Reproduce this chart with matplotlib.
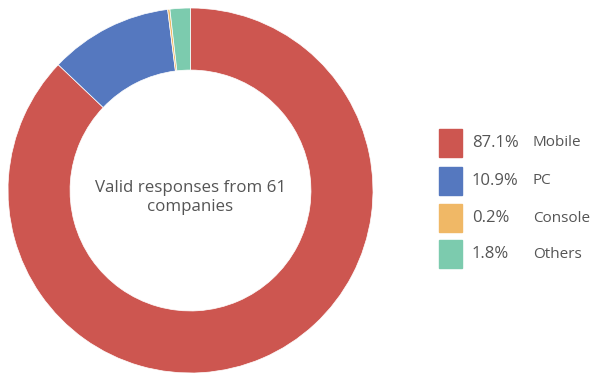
import matplotlib.pyplot as plt
import matplotlib.patches as mpatches

labels = ["Mobile", "PC", "Console", "Others"]
shares = [87.1, 10.9, 0.2, 1.8]
colors = ["#CD5650", "#5578BF", "#F0B866", "#7CCBAE"]
centre_text = "Valid responses from 61\ncompanies"

plt.rcParams['font.family'] = ['Open Sans', 'DejaVu Sans']

fig = plt.figure(figsize=(5.92, 3.75), dpi=100)
ax = fig.add_axes([8 / 592, 2 / 375, 365 / 592, 365 / 375])
ax.pie(shares, colors=colors, startangle=90, counterclock=False, radius=1,
       wedgeprops=dict(width=0.34, edgecolor="white", linewidth=0.5))
ax.set_xlim(-1, 1)
ax.set_ylim(-1, 1)
ax.set_aspect("equal")
ax.axis("off")
ax.text(0, -0.04, centre_text, ha="center", va="center",
        fontsize=12.2, color="#555555", linespacing=1.25)

# legend drawn by hand: swatch, percentage, name
row_y = [143, 181, 218, 254]
for y, lab, val, col in zip(row_y, labels, shares, colors):
    fig.patches.append(mpatches.Rectangle((439 / 592, 1 - (y + 14) / 375), 23 / 592, 28 / 375,
                                          color=col, transform=fig.transFigure))
    fig.text(472 / 592, 1 - y / 375, f"{val}%", fontsize=12, color="#555555",
             va="center", ha="left")
    fig.text(533 / 592, 1 - y / 375, lab, fontsize=11, color="#555555",
             va="center", ha="left")

fig.savefig("out.png", dpi=100)
